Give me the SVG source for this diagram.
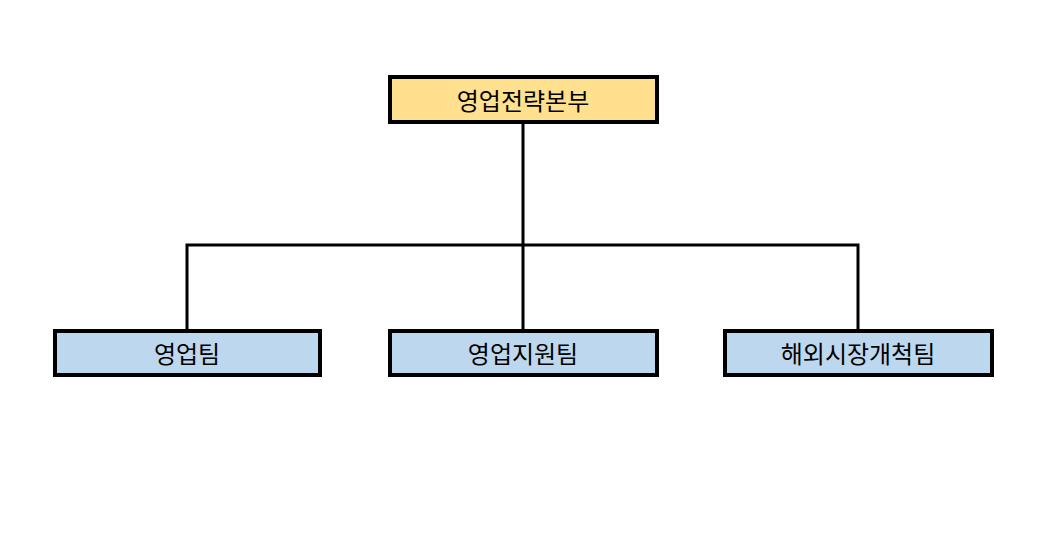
<svg xmlns="http://www.w3.org/2000/svg" width="1060" height="547" viewBox="0 0 1060 547">
<style>
.top{fill:#ffe08f;stroke:#000;stroke-width:4}
.sub{fill:#bdd7ee;stroke:#000;stroke-width:4}
.t{font-family:"Noto Sans CJK KR",sans-serif;font-size:24px;text-anchor:middle;dominant-baseline:central;fill:#000}
.c{fill:none;stroke:#000;stroke-width:3}
</style>
<rect width="1060" height="547" fill="#fff"/>
<g id="connectors">
<path class="c" d="M523 122V245M187 331V245H858V331M523 245V331"/>
</g>
<g id="n0"><rect class="top" x="390" y="77" width="267" height="45"/><text class="t" x="523" y="99">영업전략본부</text></g>
<g id="n1"><rect class="sub" x="55" y="331" width="265" height="44"/><text class="t" x="187" y="352">영업팀</text></g>
<g id="n2"><rect class="sub" x="390" y="331" width="267" height="44"/><text class="t" x="523" y="352">영업지원팀</text></g>
<g id="n3"><rect class="sub" x="725" y="331" width="267" height="44"/><text class="t" x="858" y="352">해외시장개척팀</text></g>
</svg>
